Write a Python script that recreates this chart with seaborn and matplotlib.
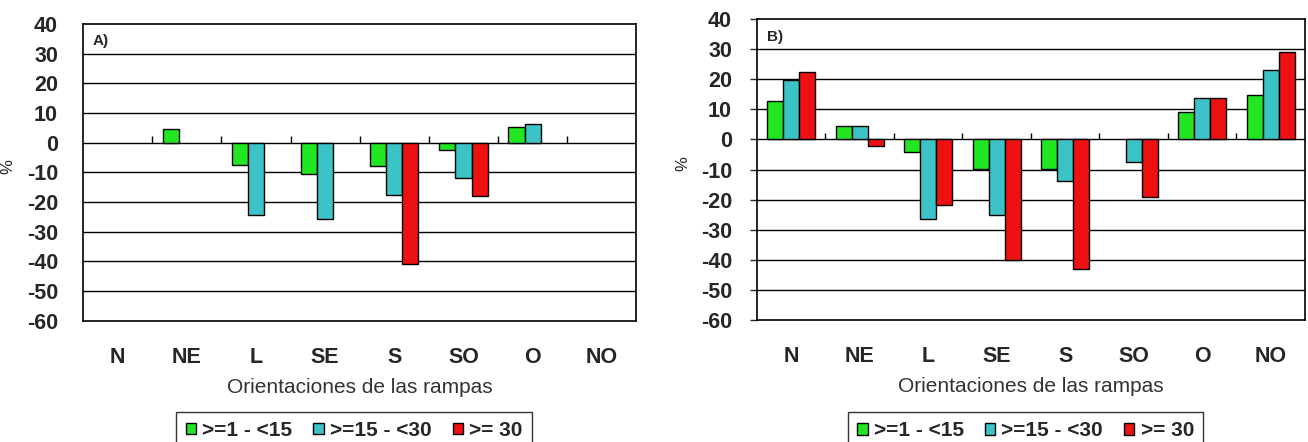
import numpy as np
import pandas as pd
import matplotlib
matplotlib.use('Agg')
import matplotlib.pyplot as plt
import seaborn as sns

orientaciones = ['N', 'NE', 'L', 'SE', 'S', 'SO', 'O', 'NO']
clases = ['>=1 - <15', '>=15 - <30', '>= 30']

# panel A (NaN = no bar)
a_1_15 = [np.nan, 4.5, -7.5, -10.5, -8.0, -2.5, 5.3, np.nan]
a_15_30 = [np.nan, np.nan, -24.5, -25.6, -17.5, -11.8, 6.4, np.nan]
a_30 = [np.nan, np.nan, np.nan, np.nan, -41.0, -18.0, np.nan, np.nan]

# panel B
b_1_15 = [12.7, 4.6, -4.2, -9.9, -9.9, np.nan, 9.1, 14.9]
b_15_30 = [19.8, 4.6, -26.3, -25.2, -13.7, -7.5, 13.8, 23.2]
b_30 = [22.5, -2.3, -21.9, -39.9, -43.1, -19.0, 13.8, 29.0]

colores = ['#22e622', '#3cc3c8', '#ee1111']

sns.set_style('white')
plt.rcParams['font.family'] = ['Liberation Sans', 'DejaVu Sans']


def make_df(s1, s2, s3):
    rows = []
    for serie, clase in zip([s1, s2, s3], clases):
        for o, v in zip(orientaciones, serie):
            rows.append({'orientacion': o, 'clase': clase, 'valor': v})
    return pd.DataFrame(rows).dropna()


fig = plt.figure(figsize=(13.08, 4.42), dpi=100)
ax_a = fig.add_axes([0.0635, 0.274, 0.423, 0.672])
ax_b = fig.add_axes([0.5787, 0.276, 0.419, 0.681])

paneles = [(ax_a, make_df(a_1_15, a_15_30, a_30), 'A)', 0),
           (ax_b, make_df(b_1_15, b_15_30, b_30), 'B)', 5)]

for ax, df, letra, tick_len in paneles:
    sns.barplot(data=df, x='orientacion', y='valor', hue='clase',
                order=orientaciones, hue_order=clases, palette=colores,
                width=0.7, edgecolor='black', linewidth=1, errorbar=None,
                saturation=1, ax=ax)
    ax.set_ylim(-60, 40)
    ax.set_xlim(-0.5, len(orientaciones) - 0.5)
    ax.set_yticks(range(-60, 41, 10))
    ax.set_yticklabels([str(t) for t in range(-60, 41, 10)],
                       fontsize=15.5, fontweight='bold')
    for t in range(-50, 40, 10):
        ax.axhline(t, color='black', lw=1, zorder=0)
    # small ticks on the zero line between categories
    ax.vlines(np.arange(1, len(orientaciones)) - 0.5, 0, 2.2,
              color='black', lw=1)
    ax.tick_params(axis='y', length=tick_len, width=1, pad=18 - tick_len,
                   direction='out', left=True)
    ax.tick_params(axis='x', length=0, pad=19, labelsize=15.5)
    for lab in ax.get_xticklabels():
        lab.set_fontweight('bold')
    for sp in ax.spines.values():
        sp.set_color('black')
        sp.set_linewidth(1.2)
    ax.set_xlabel('Orientaciones de las rampas', fontsize=15,
                  color='#333333', labelpad=7)
    ax.set_ylabel('%', fontsize=12)
    ax.yaxis.set_label_coords(-0.122, 0.52)
    ax.text(0.018, 0.965, letra, transform=ax.transAxes, fontsize=11,
            fontweight='bold', va='top', ha='left')
    ax.legend_.remove()
    handles, labels = ax.get_legend_handles_labels()
    leg = ax.legend(handles, labels, loc='upper center',
                    bbox_to_anchor=(0.49, -0.27), ncol=3, frameon=True,
                    fancybox=False, edgecolor='black', handlelength=0.5,
                    handleheight=0.5, handletextpad=0.3, columnspacing=1.0,
                    borderpad=0.45, prop={'weight': 'bold', 'size': 15})
    leg.get_frame().set_linewidth(1)

plt.savefig('out.png', dpi=100)
